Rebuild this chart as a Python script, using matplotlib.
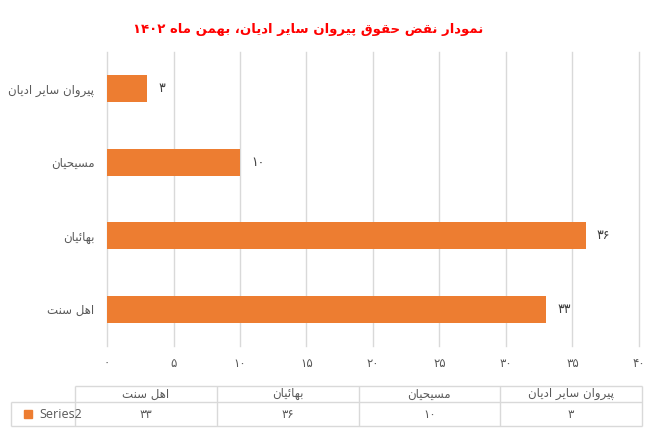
import re
import matplotlib
matplotlib.use("Agg")
import matplotlib.pyplot as plt
from matplotlib.ticker import FuncFormatter

# Persian letters -> presentation forms (isolated, final, initial, medial)
FORMS = {
    'ا': ('\uFE8D', '\uFE8E', None, None),
    'د': ('\uFEA9', '\uFEAA', None, None),
    'ر': ('\uFEAD', '\uFEAE', None, None),
    'و': ('\uFEED', '\uFEEE', None, None),
    'ب': ('\uFE8F', '\uFE90', '\uFE91', '\uFE92'),
    'پ': ('\uFB56', '\uFB57', '\uFB58', '\uFB59'),
    'ت': ('\uFE95', '\uFE96', '\uFE97', '\uFE98'),
    'ح': ('\uFEA1', '\uFEA2', '\uFEA3', '\uFEA4'),
    'س': ('\uFEB1', '\uFEB2', '\uFEB3', '\uFEB4'),
    'ض': ('\uFEBD', '\uFEBE', '\uFEBF', '\uFEC0'),
    'ق': ('\uFED5', '\uFED6', '\uFED7', '\uFED8'),
    'ل': ('\uFEDD', '\uFEDE', '\uFEDF', '\uFEE0'),
    'م': ('\uFEE1', '\uFEE2', '\uFEE3', '\uFEE4'),
    'ن': ('\uFEE5', '\uFEE6', '\uFEE7', '\uFEE8'),
    'ه': ('\uFEE9', '\uFEEA', '\uFEEB', '\uFEEC'),
    'ئ': ('\uFE89', '\uFE8A', '\uFE8B', '\uFE8C'),
    'ی': ('\uFBFC', '\uFBFD', '\uFBFE', '\uFBFF'),
}


def dual(ch):
    return ch in FORMS and FORMS[ch][2] is not None


def fa(text):
    # shape letters and put them in visual (right-to-left) order
    out = []
    for i, ch in enumerate(text):
        if ch not in FORMS:
            out.append(ch)
            continue
        prev = i > 0 and dual(text[i - 1])
        nxt = dual(ch) and i + 1 < len(text) and text[i + 1] in FORMS
        isol, fina, init, medi = FORMS[ch]
        if prev and nxt:
            out.append(medi)
        elif prev:
            out.append(fina)
        elif nxt:
            out.append(init)
        else:
            out.append(isol)
    tokens = re.findall(r'[0-9۰-۹]+|.', ''.join(out))
    return ''.join(reversed(tokens))


def fa_num(n):
    return str(n).translate(str.maketrans('0123456789', '۰۱۲۳۴۵۶۷۸۹'))


# data (bottom to top on the chart, left to right in the table)
categories = ['اهل سنت', 'بهائیان', 'مسیحیان', 'پیروان سایر ادیان']
values = [33, 36, 10, 3]
series_name = 'Series2'
title = 'نمودار نقض حقوق پیروان سایر ادیان، بهمن ماه ۱۴۰۲'

orange = '#ED7D31'
grid_c = '#D9D9D9'
text_c = '#595959'

plt.rcParams['font.family'] = ['DejaVu Sans']

fig = plt.figure(figsize=(6.57, 4.37), dpi=100)
W, H = 657, 437

# main bar chart
ax = fig.add_axes([107 / W, 1 - 346 / H, (639 - 107) / W, (346 - 52) / H])
ypos = list(range(len(categories)))
ax.barh(ypos, values, height=0.37, color=orange, zorder=3)
ax.set_xlim(0, 40)
ax.set_ylim(-0.5, len(categories) - 0.5)
ax.set_xticks(range(0, 41, 5))
ax.xaxis.set_major_formatter(FuncFormatter(lambda v, p: fa_num(int(v))))
ax.set_yticks(ypos)
ax.set_yticklabels([fa(c) for c in categories])
ax.tick_params(axis='both', length=0, colors=text_c, labelsize=8.5)
ax.tick_params(axis='y', pad=9)
ax.tick_params(axis='x', pad=8)
ax.grid(axis='x', color=grid_c, linewidth=1, zorder=0)
for gl in ax.get_xgridlines():
    gl.set_clip_on(False)
for s in ax.spines.values():
    s.set_visible(False)

for y, v in zip(ypos, values):
    ax.annotate(fa_num(v), (v, y), textcoords='offset points', xytext=(8, 0),
                ha='left', va='center', fontsize=9, color='#404040')

fig.text(308 / W, 1 - 30 / H, fa(title), ha='center', va='center',
         fontsize=9.5, fontweight='bold', color='#FF0000')

# data table under the chart
tx0, tx1, ty0, ty1 = 11, 642, 386, 426
tab = fig.add_axes([tx0 / W, 1 - ty1 / H, (tx1 - tx0) / W, (ty1 - ty0) / H])
lab_w = (75 - tx0) / ((tx1 - 75) / len(categories))
ncol = len(categories)
tab.set_xlim(-lab_w, ncol)
tab.set_ylim(0, 2)
tab.axis('off')
hmid = (426 - 402) / (426 - 386) * 2
tab.hlines(2, 0, ncol, color=grid_c, lw=1, clip_on=False)
tab.hlines([0, hmid], -lab_w, ncol, color=grid_c, lw=1, clip_on=False)
tab.vlines(-lab_w, 0, hmid, color=grid_c, lw=1, clip_on=False)
tab.vlines(range(ncol + 1), 0, 2, color=grid_c, lw=1, clip_on=False)
for i, (c, v) in enumerate(zip(categories, values)):
    tab.text(i + 0.5, (2 + hmid) / 2, fa(c), ha='center', va='center',
             fontsize=8.5, color=text_c)
    tab.text(i + 0.5, hmid / 2, fa_num(v), ha='center', va='center',
             fontsize=8.5, color=text_c)
tab.plot([-lab_w + 0.12], [hmid / 2], marker='s', ms=6, color=orange,
         clip_on=False)
tab.text(-lab_w + 0.2, hmid / 2, series_name, ha='left', va='center',
         fontsize=9, color=text_c, family='Open Sans')

fig.savefig('out.png', dpi=100)
